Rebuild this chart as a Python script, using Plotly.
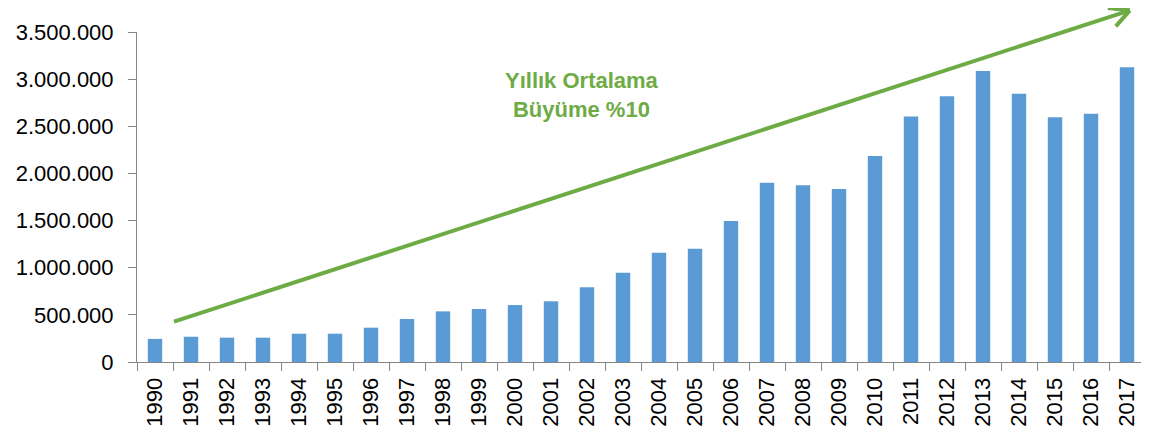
import plotly.graph_objects as go

years = [str(y) for y in range(1990, 2018)]
values = [245000, 268000, 258000, 258000, 300000, 300000, 364000, 456000, 537000, 562000,
          604000, 644000, 792000, 947000, 1159000, 1201000, 1495000, 1901000, 1874000, 1835000,
          2185000, 2605000, 2818000, 3086000, 2845000, 2595000, 2634000, 3125000]
y_ticks = [0, 500000, 1000000, 1500000, 2000000, 2500000, 3000000, 3500000]
note_text = "Yıllık Ortalama<br>Büyüme %10"
arrow_start = (0.5, 424000)
arrow_end = (27.08, 3730000)

green = "#6DAB45"
font_family = "Liberation Sans, Arial, sans-serif"
x_range = [-0.5, 27.5]
y_range = [0, 3500000]

fig = go.Figure()
fig.add_trace(go.Bar(x=years, y=values, marker=dict(color="#5B9BD5", line=dict(width=0)),
                     width=0.4))

# page body has an 8px margin, so the figure is 8px smaller on each axis
fig.update_layout(
    width=1141, height=426,
    margin=dict(l=129, r=4, t=24, b=72, autoexpand=False),
    plot_bgcolor="white", paper_bgcolor="white",
    separators=",.",
    showlegend=False,
    font=dict(family=font_family, color="#000000"),
    xaxis=dict(type="category", range=x_range, showline=True, linecolor="#868686", linewidth=1,
               ticks="outside", tickson="boundaries", ticklen=8, tickcolor="#868686",
               tickangle=-90, tickfont=dict(size=22), showgrid=False, ticklabelstandoff=6),
    yaxis=dict(range=y_range, tickvals=y_ticks, tickformat=",.0f", showline=True,
               linecolor="#868686", linewidth=1, ticks="outside", ticklen=8, tickcolor="#868686",
               tickfont=dict(size=22), showgrid=False, zeroline=False, ticklabelstandoff=10),
)

arrow_style = dict(text="", showarrow=True, arrowhead=0, arrowwidth=4,
                   arrowcolor=green, standoff=0, startstandoff=0, width=1, height=1,
                   borderpad=0, font=dict(size=1))
fig.add_annotation(x=arrow_end[0], y=arrow_end[1], ax=arrow_start[0], ay=arrow_start[1],
                   xref="x", yref="y", axref="x", ayref="y", **arrow_style)
# open chevron arms at the arrow tip (tip in paper coords, arm ends as pixel offsets)
tip_px = (arrow_end[0] - x_range[0]) / (x_range[1] - x_range[0])
tip_py = (arrow_end[1] - y_range[0]) / (y_range[1] - y_range[0])
for dx_px, dy_px in [(-23, -3), (-15, 17)]:
    fig.add_annotation(x=tip_px, y=tip_py, xref="paper", yref="paper", ax=dx_px, ay=dy_px,
                       axref="pixel", ayref="pixel", **arrow_style)

fig.add_annotation(x=11.86, y=2830000, xref="x", yref="y", text=note_text, showarrow=False,
                   font=dict(size=22, color=green, family=font_family, weight="bold"),
                   align="center")

fig.write_html("out.html")
